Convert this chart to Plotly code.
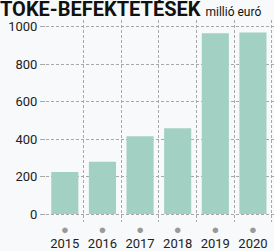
import plotly.graph_objects as go

years = ["2015", "2016", "2017", "2018", "2019", "2020"]
values = [225, 279, 415, 458, 964, 969]
yticks = [0, 200, 400, 600, 800, 1000]
title_text = "TŐKE-BEFEKTETÉSEK"
unit_text = "millió euró"

xs = list(range(len(years)))
font_fam = "Roboto, sans-serif"

fig = go.Figure()
fig.add_trace(go.Bar(x=xs, y=values, marker=dict(color="#a2d0c2", line=dict(width=0)),
                     width=0.72, hoverinfo="skip"))

fig.update_layout(
    width=274, height=251,
    margin=dict(l=46, r=0, t=20, b=29),
    paper_bgcolor="#f8f9fb", plot_bgcolor="#f8f9fb",
    showlegend=False,
    font=dict(family=font_fam, size=13, color="#222"),
)
fig.update_xaxes(
    range=[-0.5, 5.56], tickmode="array", tickvals=xs,
    ticktext=["<span style='color:#999;font-size:13px'>●</span><br><span style='font-size:13px'>" + y + "</span>" for y in years],
    showgrid=False, zeroline=False, showline=False, ticks="", automargin=False,
    tickfont=dict(size=11, color="#222", family=font_fam),
    minor=dict(tickmode="array", tickvals=[i - 0.5 for i in range(len(years) + 1)],
               showgrid=True, gridcolor="#a8a8a8", griddash="3px,2px", gridwidth=1),
)
fig.update_yaxes(
    range=[-42, 1035], tickmode="array", tickvals=yticks,
    showgrid=True, gridcolor="#a8a8a8", griddash="3px,2px", gridwidth=1,
    zeroline=False, showline=False, ticks="outside", ticklen=5, tickcolor="#a8a8a8",
    automargin=False,
    tickfont=dict(size=13, color="#222", family=font_fam),
)
fig.add_annotation(
    xref="paper", yref="paper", x=-46/228, y=1, xanchor="left", yanchor="bottom",
    yshift=-3, xshift=-2, showarrow=False,
    text=f"<b>{title_text}</b> <span style='font-size:12px'>{unit_text}</span>",
    font=dict(family=font_fam, size=20, color="#111"),
)
fig.write_html("out.html", config={"displayModeBar": False},
               post_script="document.body.style.margin='0';document.body.style.background='#f8f9fb';")
